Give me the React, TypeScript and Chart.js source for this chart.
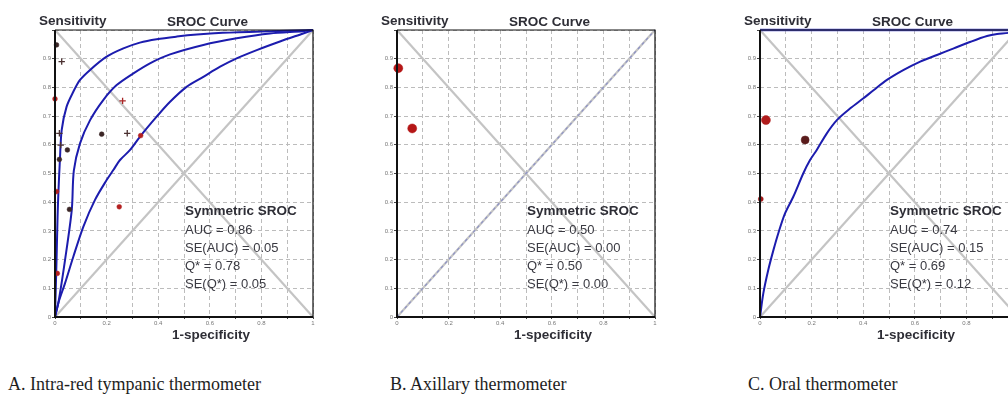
import React, { useEffect, useRef } from "react";
import { Chart, registerables } from "chart.js";

Chart.register(...registerables);

// ---------- tick labels ----------
const xTickLabels = ["0", "0.2", "0.4", "0.6", "0.8", "1"];
const yTickLabels = ["0", "0.1", "0.2", "0.3", "0.4", "0.5", "0.6", "0.7", "0.8", "0.9", ""];

// ---------- reference lines (chance diagonal and Q* anti-diagonal) ----------
const refX = [0, 1];
const refDiagY = [0, 1];
const refAntiY = [1, 0];

// ---------- Panel A: Intra-red tympanic thermometer ----------
const aInnerX = [0, 0.003, 0.006, 0.01, 0.013, 0.019, 0.026, 0.045, 0.071, 0.097, 0.136, 0.2, 0.265, 0.329, 0.394, 0.472, 0.55, 0.65, 0.8, 1];
const aInnerY = [0, 0.1, 0.2, 0.35, 0.43, 0.547, 0.652, 0.733, 0.785, 0.826, 0.861, 0.907, 0.936, 0.956, 0.968, 0.977, 0.984, 0.99, 0.995, 1];
const aMidX = [0, 0.013, 0.039, 0.065, 0.073, 0.097, 0.136, 0.187, 0.239, 0.304, 0.368, 0.446, 0.575, 0.704, 0.833, 0.961, 1];
const aMidY = [0, 0.049, 0.199, 0.373, 0.51, 0.605, 0.686, 0.756, 0.808, 0.849, 0.884, 0.915, 0.948, 0.971, 0.988, 0.996, 1];
const aOuterX = [0, 0.013, 0.039, 0.071, 0.11, 0.155, 0.2, 0.226, 0.252, 0.291, 0.329, 0.394, 0.446, 0.51, 0.575, 0.64, 0.704, 0.782, 0.872, 0.962, 1];
const aOuterY = [0, 0.049, 0.118, 0.21, 0.315, 0.408, 0.477, 0.512, 0.547, 0.582, 0.628, 0.698, 0.75, 0.802, 0.837, 0.872, 0.901, 0.93, 0.96, 0.988, 1];
const aDarkDotX = [0.006, 0.181, 0.048, 0.017, 0.056];
const aDarkDotY = [0.948, 0.637, 0.582, 0.549, 0.375];
const aRedDotX = [0, 0.332, 0.249, 0.006, 0.009];
const aRedDotY = [0.76, 0.632, 0.384, 0.437, 0.152];
const aDarkCrossX = [0.026, 0.017, 0.28, 0.022];
const aDarkCrossY = [0.89, 0.64, 0.64, 0.599];
const aRedCrossX = [0.262];
const aRedCrossY = [0.753];
const aStats = ["AUC = 0.86", "SE(AUC) = 0.05", "Q* = 0.78", "SE(Q*) = 0.05"];

// ---------- Panel B: Axillary thermometer ----------
const bCurveX = [0, 1];
const bCurveY = [0, 1];
const bPtsX = [0.005, 0.059];
const bPtsY = [0.867, 0.657];
const bStats = ["AUC = 0.50", "SE(AUC) = 0.00", "Q* = 0.50", "SE(Q*) = 0.00"];

// ---------- Panel C: Oral thermometer ----------
const cCurveX = [0, 0.013, 0.032, 0.052, 0.071, 0.097, 0.129, 0.168, 0.194, 0.22, 0.259, 0.298, 0.35, 0.401, 0.44, 0.492, 0.557, 0.621, 0.686, 0.751, 0.816, 0.88, 0.919, 0.963, 1];
const cCurveY = [0, 0.083, 0.164, 0.233, 0.292, 0.361, 0.419, 0.501, 0.547, 0.582, 0.64, 0.686, 0.727, 0.762, 0.79, 0.826, 0.861, 0.89, 0.913, 0.936, 0.959, 0.979, 0.986, 0.99, 1];
const cUpperX = [0, 1];
const cUpperY = [1, 1];
const cRedX = [0.023];
const cRedY = [0.686];
const cDarkX = [0.175];
const cDarkY = [0.617];
const cSmallX = [0.003];
const cSmallY = [0.411];
const cStats = ["AUC = 0.74", "SE(AUC) = 0.15", "Q* = 0.69", "SE(Q*) = 0.12"];

const captions = ["A. Intra-red tympanic thermometer", "B. Axillary thermometer", "C. Oral thermometer"];

const pts = (xs: number[], ys: number[]) => xs.map((x, i) => ({ x, y: ys[i] }));

const SANS = "'Liberation Sans', Arial, sans-serif";
const BLUE = "#1c1cae";

const line = (xs: number[], ys: number[], color: string, width: number, dash: number[] = []) => ({
  data: pts(xs, ys),
  showLine: true,
  borderColor: color,
  borderWidth: width,
  borderDash: dash,
  pointRadius: 0,
  fill: false,
  tension: 0.3,
  clip: 3,
});

const dots = (xs: number[], ys: number[], color: string, r: number, style: string = "circle") => ({
  data: pts(xs, ys),
  showLine: false,
  pointStyle: style,
  pointRadius: r,
  pointBackgroundColor: color,
  pointBorderColor: color,
  pointBorderWidth: style === "circle" ? 0.5 : 1.3,
  clip: false,
});

const refLines = () => [
  line(refX, refDiagY, "#c4c4c4", 2.2),
  line(refX, refAntiY, "#c4c4c4", 2.2),
];

const panelTextPlugin = {
  id: "panelText",
  afterDraw(chart: any, _args: any, opts: any) {
    const { ctx, chartArea: ca } = chart;
    const L = ca.left;
    ctx.save();
    // frame
    ctx.setLineDash([]);
    ctx.strokeStyle = "#111";
    ctx.lineWidth = 1.2;
    ctx.beginPath();
    ctx.moveTo(L, ca.top);
    ctx.lineTo(ca.right, ca.top);
    ctx.lineTo(ca.right, ca.bottom);
    ctx.stroke();
    ctx.lineWidth = 2;
    ctx.beginPath();
    ctx.moveTo(L, ca.top);
    ctx.lineTo(L, ca.bottom);
    ctx.lineTo(ca.right, ca.bottom);
    ctx.stroke();

    ctx.fillStyle = "#2e2e36";
    ctx.textBaseline = "middle";
    ctx.textAlign = "left";
    ctx.font = `bold 13.5px ${SANS}`;
    ctx.fillText("Sensitivity", L - 16, 21);
    ctx.fillText("SROC Curve", L + 112, 22);
    ctx.textAlign = "center";
    ctx.fillText("1-specificity", L + 156, 335);

    ctx.textAlign = "left";
    ctx.font = `bold 13.5px ${SANS}`;
    ctx.fillText("Symmetric SROC", L + 130, 211);
    ctx.font = `13px ${SANS}`;
    ctx.fillStyle = "#3a3a42";
    const ys = [230, 248.5, 266.5, 284.5];
    (opts.stats as string[]).forEach((s, i) => ctx.fillText(s, L + 130, ys[i]));
    ctx.restore();
  },
};

const makeOptions = (stats: string[]) => ({
  responsive: false,
  animation: false,
  events: [],
  layout: { padding: { left: 39, right: 17, top: 30, bottom: 18 } },
  plugins: {
    legend: { display: false },
    tooltip: { enabled: false },
    panelText: { stats },
  },
  scales: {
    x: {
      type: "linear",
      min: 0,
      max: 1,
      afterFit: (s: any) => {
        s.height = 10;
      },
      border: { display: false, dash: [4, 3] },
      grid: { color: "#bcbcbc", lineWidth: 1, drawTicks: true, tickLength: 2, tickColor: "#444", tickBorderDash: [] },
      ticks: {
        stepSize: 0.1,
        autoSkip: false,
        maxRotation: 0,
        padding: 1,
        color: "#777",
        font: { size: 6, family: SANS },
        callback: (v: any) => {
          const k = Math.round(Number(v) * 10);
          return k % 2 === 0 ? xTickLabels[k / 2] : "";
        },
      },
    },
    y: {
      type: "linear",
      min: 0,
      max: 1,
      afterFit: (s: any) => {
        s.width = 16;
      },
      border: { display: false, dash: [4, 3] },
      grid: { color: "#bcbcbc", lineWidth: 1, drawTicks: true, tickLength: 3, tickColor: "#444", tickBorderDash: [] },
      ticks: {
        stepSize: 0.1,
        autoSkip: false,
        padding: 1,
        color: "#777",
        font: { size: 6, family: SANS },
        callback: (v: any) => yTickLabels[Math.round(Number(v) * 10)],
      },
    },
  },
});

function Panel({ left, datasets, stats }: { left: number; datasets: any[]; stats: string[] }) {
  const ref = useRef<HTMLCanvasElement | null>(null);
  useEffect(() => {
    if (!ref.current) return;
    const chart = new Chart(ref.current, {
      type: "scatter",
      data: { datasets },
      options: makeOptions(stats) as any,
      plugins: [panelTextPlugin],
    });
    return () => chart.destroy();
  }, []);
  return (
    <canvas
      ref={ref}
      width={330}
      height={345}
      style={{ position: "absolute", left, top: 0, width: 330, height: 345 }}
    />
  );
}

export default function App() {
  const dsA = [
    dots(aDarkDotX, aDarkDotY, "#3b2626", 2.4),
    dots(aRedDotX, aRedDotY, "#b42020", 2.4),
    dots(aDarkCrossX, aDarkCrossY, "#4a3030", 3.2, "cross"),
    dots(aRedCrossX, aRedCrossY, "#a82424", 3.2, "cross"),
    line(aInnerX, aInnerY, BLUE, 2),
    line(aMidX, aMidY, BLUE, 2),
    line(aOuterX, aOuterY, BLUE, 2),
    ...refLines(),
  ];
  const dsB = [
    dots(bPtsX, bPtsY, "#b51616", 4.5),
    line(bCurveX, bCurveY, "#8d92c6", 1.2, [3, 3]),
    ...refLines(),
  ];
  const dsC = [
    dots(cRedX, cRedY, "#b01c1c", 4.5),
    dots(cDarkX, cDarkY, "#5a1c1c", 4),
    dots(cSmallX, cSmallY, "#a01818", 2.5),
    line(cCurveX, cCurveY, BLUE, 2),
    line(cUpperX, cUpperY, "#4a4ac8", 2.5),
    ...refLines(),
  ];
  const capStyle = (left: number): React.CSSProperties => ({
    position: "absolute",
    left,
    top: 374,
    fontFamily: "'Liberation Serif', 'Times New Roman', serif",
    fontSize: 18,
    lineHeight: "20px",
    color: "#1e1e1e",
    whiteSpace: "nowrap",
  });
  return (
    <div
      style={{
        position: "fixed",
        left: 0,
        top: 0,
        width: 1008,
        height: 400,
        overflow: "hidden",
        background: "#fff",
      }}
    >
      <Panel left={0} datasets={dsA} stats={aStats} />
      <Panel left={342} datasets={dsB} stats={bStats} />
      <Panel left={705} datasets={dsC} stats={cStats} />
      <div style={capStyle(8)}>{captions[0]}</div>
      <div style={capStyle(390)}>{captions[1]}</div>
      <div style={capStyle(748)}>{captions[2]}</div>
    </div>
  );
}
